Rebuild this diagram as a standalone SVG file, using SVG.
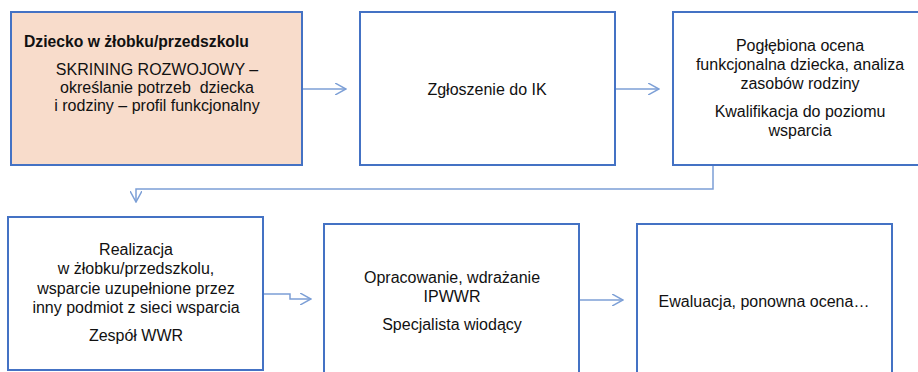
<svg xmlns="http://www.w3.org/2000/svg" width="918" height="372" viewBox="0 0 918 372">
<style>
.box{fill:#ffffff;stroke:#4472C4;stroke-width:2}
.pink{fill:#F8DCCB}
.t{font-family:"Liberation Sans",Arial,sans-serif;font-size:16px;fill:#111;text-anchor:middle}
.b{font-weight:bold;text-anchor:start;font-size:15.7px}
.c{fill:none;stroke:#7C9FD6;stroke-width:1.5}
</style>
<defs>
<marker id="ah" viewBox="0 0 12 12" refX="11" refY="6" markerWidth="12" markerHeight="12" markerUnits="userSpaceOnUse" orient="auto">
<path d="M0,0 L11,6 L0,12" fill="none" stroke="#7C9FD6" stroke-width="1.5"/>
</marker>
</defs>
<rect width="918" height="372" fill="#ffffff"/>
<g id="connectors">
<path class="c" d="M302,89 H346" marker-end="url(#ah)"/>
<path class="c" d="M615,89 H659" marker-end="url(#ah)"/>
<path class="c" d="M713,165 V189 H136 V202" marker-end="url(#ah)"/>
<path class="c" d="M263,294 H290 V299 H311" marker-end="url(#ah)"/>
<path class="c" d="M579,300 H623" marker-end="url(#ah)"/>
</g>
<g id="node1">
<rect class="box pink" x="11" y="12" width="291" height="153"/>
<text class="t b" x="24" y="47">Dziecko w żłobku/przedszkolu</text>
<text class="t" x="157" y="75">SKRINING ROZWOJOWY –</text>
<text class="t" x="157" y="93" xml:space="preserve">określanie potrzeb  dziecka</text>
<text class="t" x="157" y="111">i rodziny – profil funkcjonalny</text>
</g>
<g id="node2">
<rect class="box" x="360" y="12" width="255" height="153"/>
<text class="t" x="487" y="95">Zgłoszenie do IK</text>
</g>
<g id="node3">
<rect class="box" x="673" y="12" width="255" height="153"/>
<text class="t" x="800" y="51">Pogłębiona ocena</text>
<text class="t" x="800" y="70">funkcjonalna dziecka, analiza</text>
<text class="t" x="800" y="89">zasobów rodziny</text>
<text class="t" x="800" y="117">Kwalifikacja do poziomu</text>
<text class="t" x="800" y="136">wsparcia</text>
</g>
<g id="node4">
<rect class="box" x="8" y="217" width="255" height="153"/>
<text class="t" x="136" y="255">Realizacja</text>
<text class="t" x="136" y="274">w żłobku/przedszkolu,</text>
<text class="t" x="136" y="294">wsparcie uzupełnione przez</text>
<text class="t" x="136" y="313">inny podmiot z sieci wsparcia</text>
<text class="t" x="136" y="341">Zespół WWR</text>
</g>
<g id="node5">
<rect class="box" x="324" y="224" width="255" height="160"/>
<text class="t" x="452" y="283">Opracowanie, wdrażanie</text>
<text class="t" x="452" y="302">IPWWR</text>
<text class="t" x="452" y="330">Specjalista wiodący</text>
</g>
<g id="node6">
<rect class="box" x="637" y="224" width="255" height="160"/>
<text class="t" x="764" y="307">Ewaluacja, ponowna ocena…</text>
</g>
</svg>
